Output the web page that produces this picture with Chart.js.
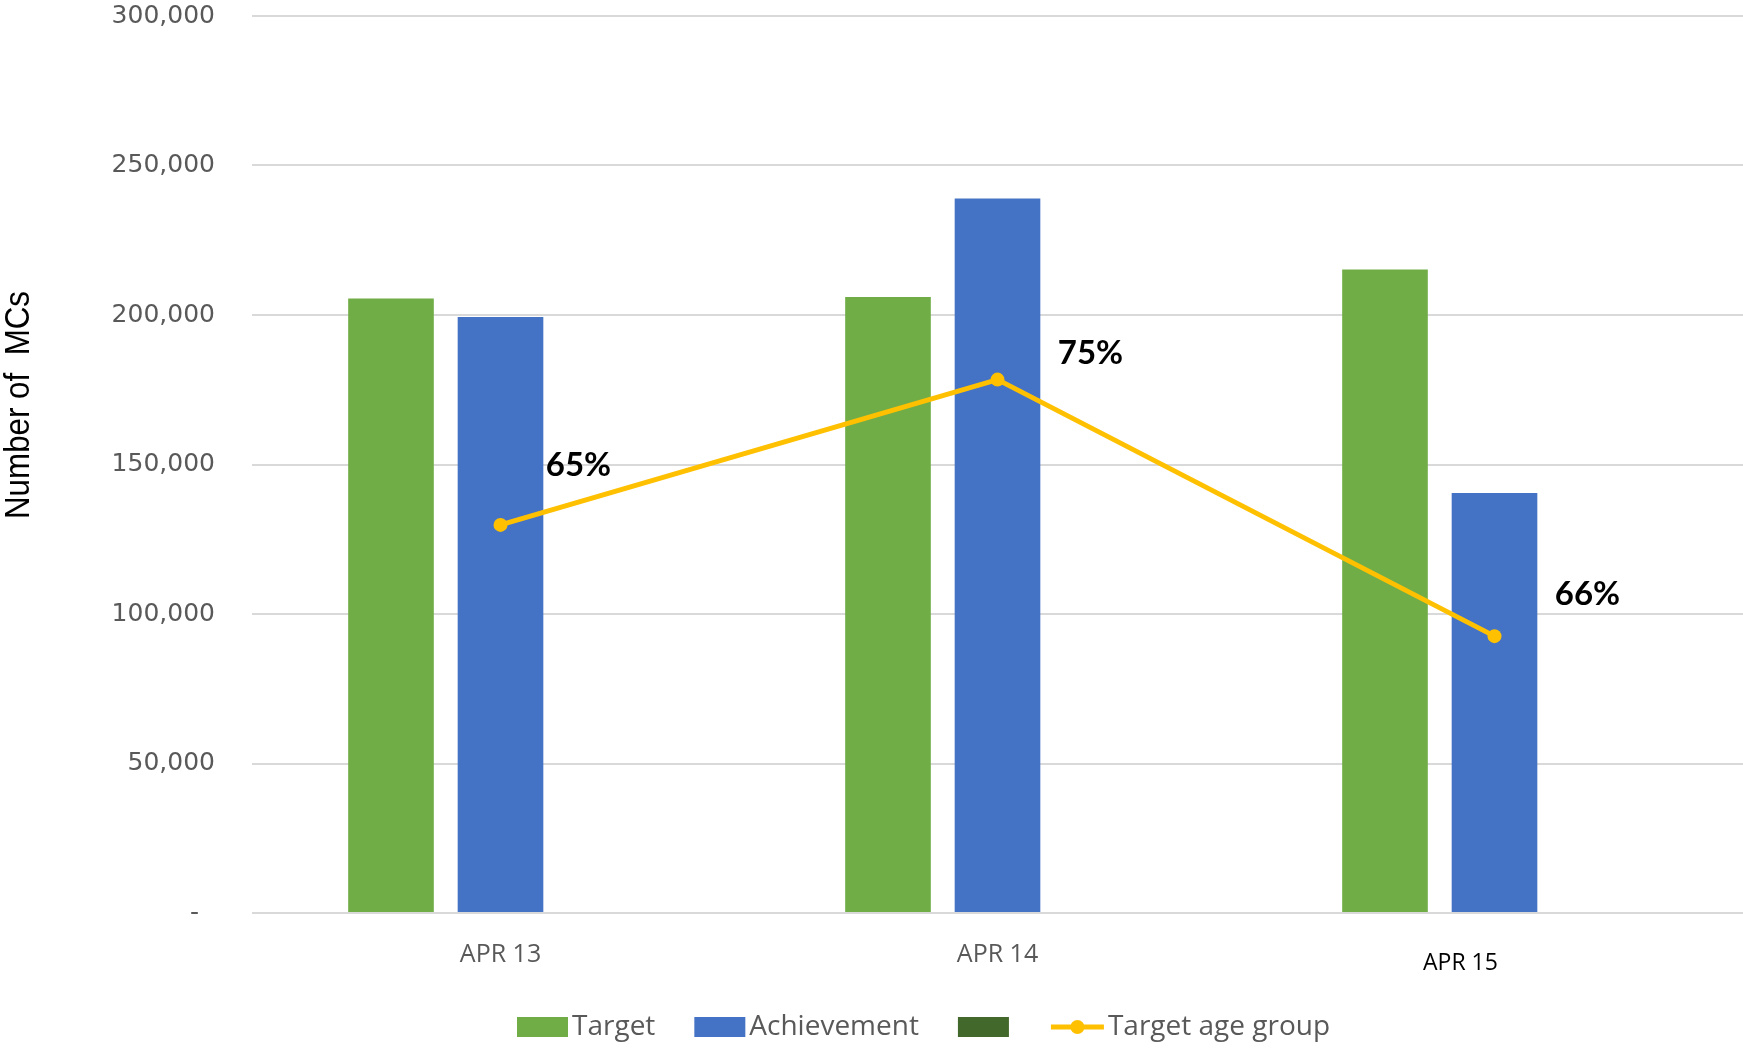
<!DOCTYPE html>
<html>
<head>
<meta charset="utf-8">
<title>Number of MCs</title>
<script src="https://cdn.jsdelivr.net/npm/chart.js@4.4.1/dist/chart.umd.min.js"></script>
<style>
  html, body { margin: 0; padding: 0; background: #fff; }
  #wrap { width: 1743px; height: 1052px; }
</style>
</head>
<body>
<div id="wrap"><canvas id="chart" width="1743" height="1052"></canvas></div>
<script>
// chart data
const categories = ['APR 13', 'APR 14', 'APR 15'];
const targetValues = [205500, 206000, 215200];
const achievementValues = [199300, 239000, 140500];
const emptyValues = [null, null, null];
const ageGroupValues = [129800, 178400, 92600];
const ageGroupLabels = ['65%', '75%', '66%'];
const seriesNames = ['Target', 'Achievement', '', 'Target age group'];
const yTicks = [0, 50000, 100000, 150000, 200000, 250000, 300000];
const yTitle = 'Number of  MCs';

const GREEN = '#70AD47', BLUE = '#4472C4', DARK = '#43682B', GOLD = '#FFC000';
const GREY = '#595959';

// per-label nudges, as in the source sheet
const xLabelShift = [[0, 0], [0, 0], [-34, 8]];
const pctOffset = [[78, -60], [93, -26], [93, -42]];

// y title is a condensed face in the original, squeeze it to its length
const yTitlePlugin = {
  id: 'yTitle',
  afterDraw(chart) {
    const ctx = chart.ctx;
    ctx.save();
    ctx.font = "35px 'Liberation Sans Narrow', 'Liberation Sans', Arial, sans-serif";
    const w = ctx.measureText(yTitle).width;
    ctx.translate(19, 405);
    ctx.rotate(-Math.PI / 2);
    ctx.scale(Math.min(1, 228 / w), 1);
    ctx.fillStyle = '#000';
    ctx.textAlign = 'center';
    ctx.textBaseline = 'middle';
    ctx.fillText(yTitle, 0, 0);
    ctx.restore();
  }
};

const xLabelsPlugin = {
  id: 'xLabels',
  afterDraw(chart) {
    const ctx = chart.ctx, xs = chart.scales.x;
    ctx.save();
    ctx.textAlign = 'center';
    ctx.textBaseline = 'middle';
    categories.forEach((c, i) => {
      const last = i === categories.length - 1;
      ctx.font = last ? "23px 'Open Sans', sans-serif" : "25px 'Open Sans', sans-serif";
      ctx.fillStyle = last ? '#000' : GREY;
      ctx.fillText(c, xs.getPixelForValue(i) + xLabelShift[i][0], 955 + xLabelShift[i][1]);
    });
    ctx.restore();
  }
};

const pctPlugin = {
  id: 'pctLabels',
  afterDatasetsDraw(chart) {
    const ctx = chart.ctx;
    const meta = chart.getDatasetMeta(3);
    ctx.save();
    ctx.font = "bold 33px Lato, 'Open Sans', sans-serif";
    ctx.fillStyle = '#000';
    ctx.textAlign = 'center';
    ctx.textBaseline = 'middle';
    meta.data.forEach((pt, i) => {
      ctx.fillText(ageGroupLabels[i], pt.x + pctOffset[i][0], pt.y + pctOffset[i][1]);
    });
    ctx.restore();
  }
};

const legendPlugin = {
  id: 'legendRow',
  afterDraw(chart) {
    const ctx = chart.ctx;
    const y = 1027;
    let x = 517;
    ctx.save();
    ctx.font = "28px 'Open Sans', sans-serif";
    ctx.textBaseline = 'middle';
    chart.data.datasets.forEach(ds => {
      if (ds.type === 'line') {
        ctx.strokeStyle = GOLD;
        ctx.lineWidth = 5;
        ctx.beginPath();
        ctx.moveTo(x, y);
        ctx.lineTo(x + 53, y);
        ctx.stroke();
        ctx.fillStyle = GOLD;
        ctx.beginPath();
        ctx.arc(x + 26.5, y, 7, 0, Math.PI * 2);
        ctx.fill();
        x += 57;
      } else {
        ctx.fillStyle = ds.backgroundColor;
        ctx.fillRect(x, y - 10, 51, 20);
        x += 55;
      }
      if (ds.label) {
        ctx.fillStyle = GREY;
        ctx.fillText(ds.label, x, y);
        x += ctx.measureText(ds.label).width + 39;
      } else {
        x += 38;
      }
    });
    ctx.restore();
  }
};

const barOpts = { categoryPercentage: 0.661, barPercentage: 0.782, borderWidth: 0, order: 1 };

new Chart(document.getElementById('chart'), {
  type: 'bar',
  data: {
    labels: categories,
    datasets: [
      { label: seriesNames[0], data: targetValues, backgroundColor: GREEN, ...barOpts },
      { label: seriesNames[1], data: achievementValues, backgroundColor: BLUE, ...barOpts },
      { label: seriesNames[2], data: emptyValues, backgroundColor: DARK, ...barOpts },
      {
        type: 'line', label: seriesNames[3], data: ageGroupValues,
        borderColor: GOLD, backgroundColor: GOLD, borderWidth: 5,
        pointRadius: 7, pointBackgroundColor: GOLD, pointBorderWidth: 0,
        tension: 0, order: 0
      }
    ]
  },
  options: {
    responsive: false,
    animation: false,
    devicePixelRatio: 1,
    layout: { autoPadding: false, padding: { left: 0, right: 0, top: 16, bottom: 139 } },
    plugins: { legend: { display: false }, tooltip: { enabled: false } },
    scales: {
      x: { display: false },
      y: {
        min: 0, max: 300000,
        afterBuildTicks: s => { s.ticks = yTicks.map(v => ({ value: v })); },
        afterFit: s => { s.width = 252; },
        grid: { color: '#d9d9d9', lineWidth: 2, drawTicks: true, tickLength: 37, tickColor: 'rgba(0,0,0,0)' },
        border: { display: false },
        ticks: {
          padding: 0,
          color: GREY,
          font: { family: "'DejaVu Sans', sans-serif", size: 25 },
          callback: v => v === 0 ? '-  ' : v.toLocaleString('en-US')
        }
      }
    }
  },
  plugins: [yTitlePlugin, xLabelsPlugin, pctPlugin, legendPlugin]
});
</script>
</body>
</html>
